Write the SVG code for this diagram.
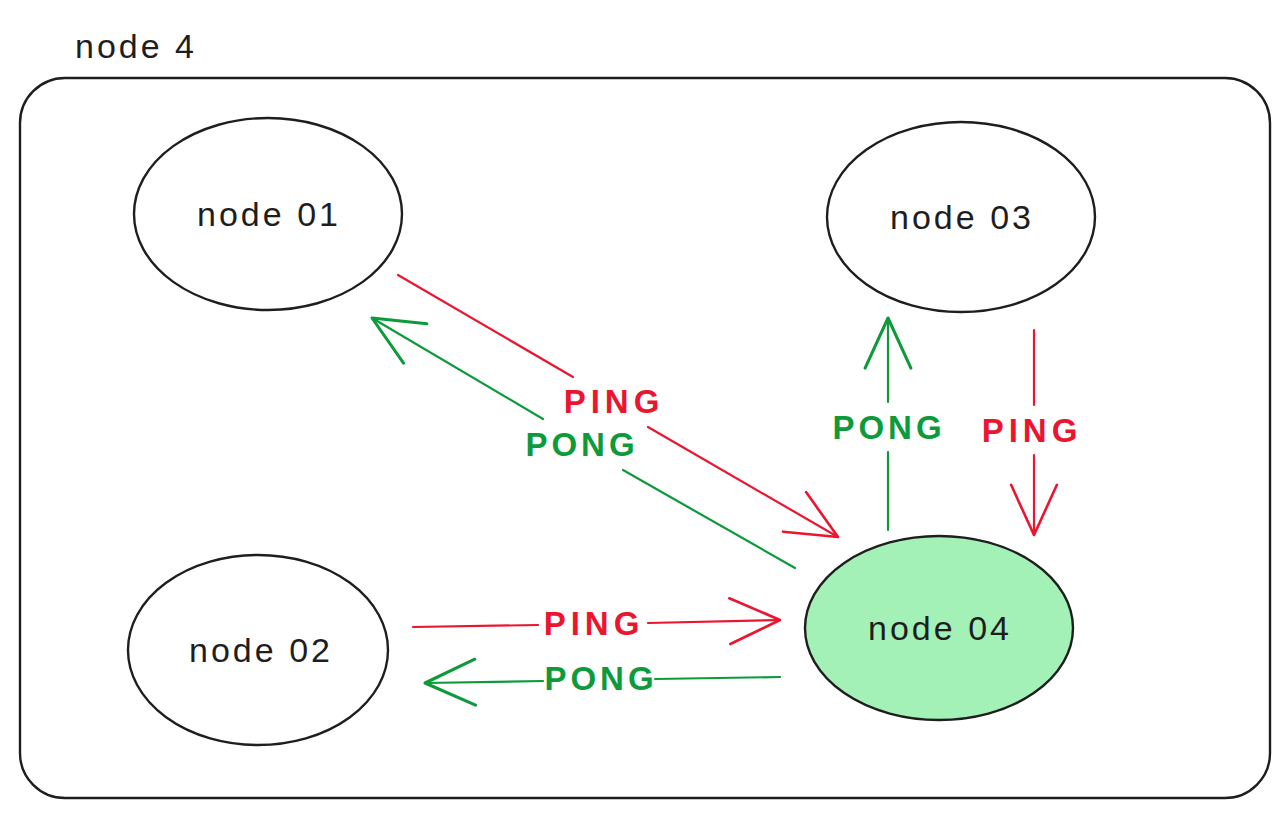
<svg xmlns="http://www.w3.org/2000/svg" width="1287" height="816" viewBox="0 0 1287 816">
<style>
.node{fill:none;stroke:#1e1e1e;stroke-width:2.4}
.label{font-family:"Liberation Sans",Arial,sans-serif;font-size:34px;fill:#1e1e1e;text-anchor:middle;letter-spacing:3px}
.red{stroke:#ec1530;stroke-width:2.2;fill:none;stroke-linecap:round}
.green{stroke:#0c9a3a;stroke-width:2.2;fill:none;stroke-linecap:round}
.tr{font-family:"Liberation Sans",Arial,sans-serif;font-size:33px;font-weight:bold;fill:#ec1530;text-anchor:middle;letter-spacing:5px}
.tg{font-family:"Liberation Sans",Arial,sans-serif;font-size:33px;font-weight:bold;fill:#0c9a3a;text-anchor:middle;letter-spacing:4px}
</style>
<defs>
<marker id="ar" markerUnits="userSpaceOnUse" markerWidth="60" markerHeight="60" viewBox="-50 -25 55 50" refX="0" refY="0" orient="auto">
<path d="M -46 -21 L 0 0 L -46 21" fill="none" stroke="#ec1530" stroke-width="2.4" stroke-linecap="round" stroke-linejoin="round"/>
</marker>
<marker id="ag" markerUnits="userSpaceOnUse" markerWidth="60" markerHeight="60" viewBox="-50 -25 55 50" refX="0" refY="0" orient="auto">
<path d="M -46 -21 L 0 0 L -46 21" fill="none" stroke="#0c9a3a" stroke-width="2.8" stroke-linecap="round" stroke-linejoin="round"/>
</marker>
</defs>
<rect width="1287" height="816" fill="#ffffff"/>
<g id="container">
<text x="75" y="58" class="label" style="text-anchor:start">node 4</text>
<rect x="20" y="78" width="1250" height="720" rx="45" ry="45" class="node"/>
</g>
<g id="node01">
<ellipse cx="268" cy="214" rx="134" ry="96" class="node"/>
<text x="269" y="226" class="label">node 01</text>
</g>
<g id="node03">
<ellipse cx="961" cy="217" rx="134" ry="95" class="node"/>
<text x="962" y="229" class="label">node 03</text>
</g>
<g id="node02">
<ellipse cx="258" cy="650" rx="130" ry="95" class="node"/>
<text x="261" y="662" class="label">node 02</text>
</g>
<g id="node04">
<ellipse cx="939" cy="628" rx="134" ry="92" fill="#a3f1b6" stroke="#1e1e1e" stroke-width="2.4"/>
<text x="940" y="640" class="label">node 04</text>
</g>
<g id="connectors">
<path class="red" d="M 398 275 L 573 377"/>
<path class="red" d="M 648 427 L 838 537" marker-end="url(#ar)"/>
<text x="614" y="413" class="tr">PING</text>
<path class="green" d="M 795 568 L 623 470"/>
<path class="green" d="M 543 419 L 372 318" marker-end="url(#ag)"/>
<text x="582" y="456" class="tg">PONG</text>
<path class="green" d="M 888 530 L 888 452"/>
<path class="green" d="M 888 402 L 888 318" marker-end="url(#ag)"/>
<text x="889" y="439" class="tg">PONG</text>
<path class="red" d="M 1034 330 L 1034 405"/>
<path class="red" d="M 1034 455 L 1034 535" marker-end="url(#ar)"/>
<text x="1032" y="442" class="tr">PING</text>
<path class="red" d="M 413 627 L 538 625"/>
<path class="red" d="M 648 623 L 780 620" marker-end="url(#ar)"/>
<text x="594" y="635" class="tr">PING</text>
<path class="green" d="M 780 677 L 655 679"/>
<path class="green" d="M 543 681 L 425 683" marker-end="url(#ag)"/>
<text x="601" y="690" class="tg">PONG</text>
</g>
</svg>
